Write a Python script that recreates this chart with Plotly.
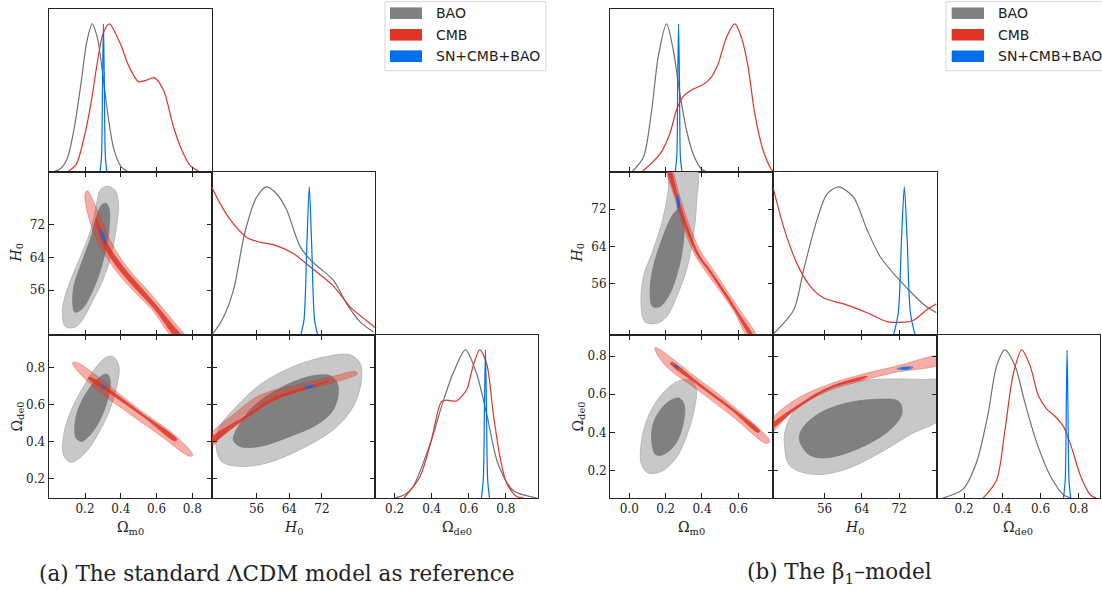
import plotly.graph_objects as go

W, H = 1102, 592

# ---------------- text ----------------
series_names = ["BAO", "CMB", "SN+CMB+BAO"]
captions = ["(a) The standard ΛCDM model as reference", "(b) The β<sub>1</sub>–model"]
param_labels = ["Ω<sub>m0</sub>", "<i>H</i><sub>0</sub>", "Ω<sub>de0</sub>"]

# ---------------- ticks ----------------
lcdm_ticks_om = [0.2, 0.4, 0.6, 0.8]
b1_ticks_om = [0.0, 0.2, 0.4, 0.6]
ticks_h0 = [56, 64, 72]
ticks_ode = [0.2, 0.4, 0.6, 0.8]
tick_text_om_lcdm = ["0.2", "0.4", "0.6", "0.8"]
tick_text_om_b1 = ["0.0", "0.2", "0.4", "0.6"]
tick_text_h0 = ["56", "64", "72"]
tick_text_ode = ["0.2", "0.4", "0.6", "0.8"]

# ---------------- LCDM: 1D marginals (value, normalised density) ----------------
lcdm_om_bao = [(0.02, 0), (0.06, 0.02), (0.10, 0.09), (0.14, 0.30), (0.18, 0.62), (0.21, 0.88), (0.24, 1.0),
               (0.27, 0.90), (0.30, 0.65), (0.33, 0.37), (0.36, 0.16), (0.40, 0.04), (0.44, 0.0)]
lcdm_om_cmb = [(0.10, 0), (0.15, 0.05), (0.20, 0.26), (0.237, 0.49), (0.265, 0.71), (0.30, 0.93), (0.336, 1.0),
               (0.396, 0.87), (0.443, 0.72), (0.499, 0.61), (0.545, 0.62), (0.587, 0.637), (0.639, 0.553),
               (0.695, 0.305), (0.742, 0.147), (0.788, 0.045), (0.844, 0.0)]
lcdm_om_sn = [(0.283, 0), (0.292, 0.1), (0.298, 0.6), (0.303, 1.0), (0.308, 0.6), (0.314, 0.1), (0.322, 0)]

lcdm_h0_bao = [(45.0, 0.0), (47.5, 0.1), (50.3, 0.30), (53.1, 0.69), (56.0, 0.93), (58.45, 1.0), (61.0, 0.95),
               (63.35, 0.845), (66.6, 0.60), (69.1, 0.51), (71.5, 0.45), (74.8, 0.37), (78.1, 0.21),
               (81.3, 0.09), (84.6, 0.02)]
lcdm_h0_cmb = [(45.0, 1.0), (47.0, 0.89), (49.5, 0.78), (53.5, 0.66), (57.0, 0.625), (60.1, 0.61), (65.0, 0.55),
               (69.1, 0.46), (74.8, 0.33), (78.9, 0.19), (84.6, 0.06), (85.0, 0.05)]
lcdm_h0_sn = [(66.8, 0), (67.6, 0.1), (68.3, 0.6), (68.9, 1.0), (69.5, 0.6), (70.2, 0.1), (71.0, 0)]

lcdm_ode_bao = [(0.20, 0), (0.25, 0.02), (0.299, 0.076), (0.398, 0.39), (0.461, 0.65), (0.515, 0.84), (0.582, 1.0),
                (0.642, 0.84), (0.696, 0.57), (0.758, 0.23), (0.84, 0.05), (0.966, 0)]
lcdm_ode_cmb = [(0.25, 0), (0.335, 0.14), (0.398, 0.39), (0.452, 0.65), (0.479, 0.66), (0.533, 0.655),
                (0.588, 0.73), (0.623, 0.89), (0.659, 1.0), (0.696, 0.91), (0.732, 0.57), (0.768, 0.28),
                (0.804, 0.10), (0.858, 0.01), (0.90, 0)]
lcdm_ode_sn = [(0.668, 0), (0.678, 0.12), (0.685, 0.65), (0.69, 1.0), (0.695, 0.65), (0.702, 0.12), (0.712, 0)]

# ---------------- LCDM: 2D contours (68% / 95%) ----------------
lcdm_omh0_bao_95 = [(0.321, 81.5), (0.368, 80.5), (0.387, 77.3), (0.381, 73.2), (0.368, 69.2), (0.340, 63.5),
                    (0.293, 57.8), (0.237, 52.9), (0.181, 48.4), (0.135, 46.8), (0.088, 47.2), (0.073, 50.5),
                    (0.088, 54.5), (0.135, 60.2), (0.191, 65.9), (0.237, 71.6), (0.265, 77.3), (0.284, 80.5)]
lcdm_omh0_bao_68 = [(0.318, 77.3), (0.336, 75.7), (0.334, 70.8), (0.312, 65.1), (0.275, 59.4), (0.228, 54.5),
                    (0.181, 51.3), (0.144, 50.6), (0.131, 52.9), (0.138, 57.0), (0.181, 62.7), (0.228, 68.3),
                    (0.265, 74.0), (0.293, 76.9)]
lcdm_omh0_cmb_95 = [(0.213, 80.4), (0.269, 75.7), (0.340, 68.3), (0.433, 61.8), (0.564, 55.3), (0.695, 48.4),
                    (0.770, 44.0), (0.704, 44.0), (0.573, 51.3), (0.437, 57.4), (0.340, 62.7), (0.256, 69.2),
                    (0.206, 76.5), (0.200, 79.6)]
lcdm_omh0_cmb_68 = [(0.262, 73.6), (0.318, 67.9), (0.412, 61.8), (0.540, 55.3), (0.672, 48.4), (0.750, 44.0),
                    (0.720, 44.0), (0.590, 51.3), (0.462, 57.4), (0.378, 61.8), (0.303, 67.1), (0.262, 72.4)]
lcdm_omh0_sn_95 = [(0.285, 70.9), (0.292, 70.9), (0.312, 68.5), (0.319, 67.4), (0.312, 67.5), (0.292, 69.7)]
lcdm_omh0_sn_68 = [(0.292, 70.3), (0.298, 70.2), (0.312, 68.4), (0.306, 68.3), (0.294, 69.6)]

lcdm_omode_bao_95 = [(0.321, 0.856), (0.359, 0.856), (0.390, 0.805), (0.377, 0.697), (0.331, 0.553),
                     (0.265, 0.427), (0.200, 0.337), (0.125, 0.287), (0.082, 0.319), (0.079, 0.427),
                     (0.116, 0.553), (0.181, 0.679), (0.265, 0.805)]
lcdm_omode_bao_68 = [(0.321, 0.764), (0.340, 0.733), (0.331, 0.643), (0.293, 0.535), (0.237, 0.445),
                     (0.181, 0.400), (0.150, 0.418), (0.144, 0.499), (0.168, 0.589), (0.219, 0.679),
                     (0.275, 0.742)]
lcdm_omode_cmb_95 = [(0.131, 0.827), (0.163, 0.823), (0.321, 0.712), (0.527, 0.556), (0.695, 0.440),
                     (0.803, 0.328), (0.788, 0.319), (0.620, 0.432), (0.433, 0.560), (0.265, 0.680),
                     (0.138, 0.805)]
lcdm_omode_cmb_68 = [(0.224, 0.748), (0.340, 0.678), (0.527, 0.545), (0.714, 0.410), (0.704, 0.402),
                     (0.527, 0.533), (0.331, 0.666), (0.219, 0.740)]
lcdm_omode_sn_95 = [(0.290, 0.705), (0.300, 0.702), (0.316, 0.688), (0.306, 0.686), (0.294, 0.695)]
lcdm_omode_sn_68 = [(0.296, 0.700), (0.303, 0.698), (0.310, 0.690), (0.303, 0.690)]

lcdm_h0ode_bao_95 = [(46.0, 0.391), (47.4, 0.292), (51.9, 0.265), (58.5, 0.283), (66.6, 0.355), (74.8, 0.463),
                     (79.7, 0.589), (81.7, 0.733), (81.3, 0.823), (78.9, 0.868), (73.2, 0.859), (65.0, 0.805),
                     (56.8, 0.706), (50.3, 0.571), (47.0, 0.481)]
lcdm_h0ode_bao_68 = [(50.3, 0.409), (51.9, 0.373), (56.8, 0.373), (64.2, 0.427), (70.7, 0.490), (74.8, 0.571),
                     (76.0, 0.697), (74.4, 0.751), (69.9, 0.755), (62.5, 0.697), (55.2, 0.589), (51.5, 0.481)]
lcdm_h0ode_cmb_95 = [(44.5, 0.430), (50.3, 0.545), (56.8, 0.650), (66.6, 0.708), (74.8, 0.752), (80.1, 0.778),
                     (80.7, 0.765), (74.8, 0.717), (66.6, 0.672), (56.8, 0.600), (50.3, 0.500), (44.5, 0.365)]
lcdm_h0ode_cmb_68 = [(44.5, 0.410), (51.9, 0.520), (60.1, 0.635), (68.3, 0.694), (73.6, 0.725), (68.3, 0.684),
                     (60.1, 0.620), (51.9, 0.502), (44.5, 0.385)]
lcdm_h0ode_sn_95 = [(67.5, 0.688), (68.5, 0.700), (70.2, 0.703), (69.4, 0.688)]
lcdm_h0ode_sn_68 = [(68.2, 0.692), (68.9, 0.699), (69.7, 0.699), (69.0, 0.690)]

# ---------------- beta1 model: 1D marginals ----------------
b1_om_bao = [(0.013, 0), (0.077, 0.10), (0.123, 0.42), (0.159, 0.78), (0.205, 1.0), (0.242, 0.82),
             (0.278, 0.53), (0.315, 0.28), (0.352, 0.12), (0.397, 0.02), (0.43, 0)]
b1_om_cmb = [(0.068, 0), (0.168, 0.12), (0.223, 0.26), (0.26, 0.42), (0.297, 0.51), (0.352, 0.56),
             (0.407, 0.59), (0.452, 0.64), (0.489, 0.73), (0.535, 0.91), (0.581, 1.0), (0.617, 0.91),
             (0.654, 0.71), (0.690, 0.40), (0.736, 0.15), (0.782, 0.02), (0.80, 0)]
b1_om_sn = [(0.252, 0), (0.261, 0.1), (0.266, 0.6), (0.271, 1.0), (0.276, 0.6), (0.281, 0.1), (0.29, 0)]

b1_h0_bao = [(45.1, 0.01), (49.4, 0.17), (51.5, 0.44), (54.4, 0.78), (56.5, 0.95), (59.0, 1.0), (62.2, 0.93),
             (65.1, 0.71), (67.9, 0.53), (71.5, 0.39), (75.1, 0.27), (77.9, 0.19), (80.0, 0.15)]
b1_h0_cmb = [(45.0, 0.99), (47.2, 0.73), (50.1, 0.48), (52.9, 0.33), (55.8, 0.25), (60.1, 0.21), (65.1, 0.15),
             (69.4, 0.09), (72.2, 0.085), (75.1, 0.10), (77.9, 0.17), (80.0, 0.21)]
b1_h0_sn = [(70.8, 0), (71.8, 0.15), (72.5, 0.65), (73.1, 1.0), (73.7, 0.65), (74.4, 0.15), (75.4, 0)]

b1_ode_bao = [(0.089, 0), (0.195, 0.06), (0.265, 0.24), (0.326, 0.57), (0.37, 0.89), (0.414, 1.0),
              (0.467, 0.89), (0.519, 0.64), (0.581, 0.37), (0.651, 0.15), (0.721, 0.02), (0.76, 0)]
b1_ode_cmb = [(0.30, 0), (0.37, 0.12), (0.414, 0.46), (0.458, 0.84), (0.502, 1.0), (0.546, 0.89),
              (0.589, 0.69), (0.633, 0.60), (0.677, 0.55), (0.721, 0.48), (0.765, 0.33), (0.809, 0.15),
              (0.861, 0.02), (0.89, 0)]
b1_ode_sn = [(0.72, 0), (0.729, 0.12), (0.735, 0.65), (0.739, 1.0), (0.743, 0.65), (0.749, 0.12), (0.758, 0)]

# ---------------- beta1 model: 2D contours ----------------
b1_omh0_bao_95 = [(0.366, 81.0), (0.370, 73.3), (0.352, 66.1), (0.315, 59.0), (0.260, 53.2), (0.205, 48.9),
                  (0.150, 47.5), (0.086, 47.8), (0.064, 51.8), (0.077, 57.5), (0.123, 62.5), (0.178, 69.0),
                  (0.214, 76.2), (0.223, 81.0)]
b1_omh0_bao_68 = [(0.269, 71.9), (0.297, 70.4), (0.297, 64.7), (0.269, 59.0), (0.223, 53.9), (0.168, 51.1),
                  (0.128, 51.1), (0.114, 54.7), (0.132, 59.7), (0.178, 65.4), (0.233, 70.4)]
b1_omh0_cmb_95 = [(0.227, 81.0), (0.278, 74.7), (0.333, 68.3), (0.388, 63.3), (0.462, 59.0), (0.535, 54.7),
                  (0.608, 50.4), (0.700, 44.6), (0.654, 44.6), (0.581, 49.7), (0.507, 54.0), (0.434, 57.9),
                  (0.361, 62.2), (0.306, 67.2), (0.256, 73.6), (0.205, 81.0)]
b1_omh0_cmb_68 = [(0.220, 81.0), (0.272, 74.0), (0.322, 68.0), (0.388, 62.0), (0.444, 59.0), (0.531, 54.0),
                  (0.597, 50.0), (0.683, 44.6), (0.671, 44.6), (0.585, 50.0), (0.519, 54.0), (0.432, 59.0),
                  (0.376, 62.0), (0.310, 68.0), (0.260, 74.0), (0.210, 81.0)]
b1_omh0_sn_95 = [(0.262, 75.0), (0.270, 75.2), (0.276, 73.0), (0.274, 71.6), (0.266, 71.8), (0.262, 73.5)]
b1_omh0_sn_68 = [(0.266, 74.3), (0.271, 74.2), (0.273, 72.6), (0.268, 72.4)]

b1_omode_bao_95 = [(0.324, 0.678), (0.366, 0.640), (0.361, 0.536), (0.315, 0.380), (0.251, 0.258),
                   (0.168, 0.192), (0.099, 0.189), (0.064, 0.241), (0.068, 0.363), (0.104, 0.484),
                   (0.168, 0.588), (0.251, 0.661)]
b1_omode_bao_68 = [(0.273, 0.580), (0.302, 0.545), (0.293, 0.432), (0.251, 0.336), (0.187, 0.284),
                   (0.145, 0.284), (0.123, 0.354), (0.132, 0.449), (0.178, 0.527), (0.233, 0.571)]
b1_omode_cmb_95 = [(0.141, 0.845), (0.168, 0.835), (0.352, 0.701), (0.535, 0.567), (0.773, 0.354),
                   (0.755, 0.342), (0.571, 0.481), (0.388, 0.614), (0.205, 0.744), (0.143, 0.828)]
b1_omode_cmb_68 = [(0.233, 0.768), (0.388, 0.655), (0.571, 0.524), (0.718, 0.406), (0.709, 0.400),
                   (0.562, 0.518), (0.379, 0.648), (0.227, 0.761)]
b1_omode_sn_95 = [(0.250, 0.752), (0.258, 0.752), (0.272, 0.738), (0.264, 0.734), (0.252, 0.745)]
b1_omode_sn_68 = [(0.256, 0.748), (0.262, 0.747), (0.268, 0.739), (0.262, 0.738)]

b1_h0ode_bao_95 = [(47.4, 0.328), (48.6, 0.224), (53.6, 0.180), (60.1, 0.203), (67.2, 0.284), (74.4, 0.389),
                   (81.0, 0.480), (81.0, 0.666), (76.5, 0.678), (67.2, 0.678), (60.1, 0.658), (53.6, 0.597),
                   (49.4, 0.510), (47.6, 0.415)]
b1_h0ode_bao_68 = [(50.6, 0.363), (52.6, 0.284), (56.5, 0.267), (63.6, 0.319), (70.1, 0.415), (72.6, 0.501),
                   (71.9, 0.562), (67.2, 0.574), (60.1, 0.550), (54.4, 0.493), (51.1, 0.415)]
b1_h0ode_cmb_95 = [(44.5, 0.460), (49.4, 0.567), (56.5, 0.649), (64.2, 0.706), (70.8, 0.744), (81.0, 0.800),
                   (81.0, 0.762), (70.8, 0.713), (64.2, 0.672), (56.5, 0.614), (49.4, 0.519), (44.5, 0.400)]
b1_h0ode_cmb_68 = [(44.5, 0.436), (50.8, 0.550), (57.9, 0.646), (65.1, 0.694), (64.7, 0.686), (57.6, 0.635),
                   (50.4, 0.531), (44.5, 0.420)]
b1_h0ode_sn_95 = [(71.5, 0.733), (72.5, 0.742), (75.0, 0.742), (74.2, 0.730)]
b1_h0ode_sn_68 = [(72.3, 0.735), (73.0, 0.740), (74.3, 0.740), (73.6, 0.733)]

# ---------------- styles ----------------
line_colors = ["#707070", "#E03424", "#006FED"]
legend_colors = ["#808080", "#E03424", "#006FED"]
fill95 = ["#c8c8c8", "rgba(224,52,36,0.40)", "rgba(0,111,237,0.5)"]
fill68 = ["#808080", "rgba(224,52,36,0.85)", "rgba(0,111,237,0.9)"]
edge95 = ["#a8a8a8", "rgba(224,52,36,0.45)", "rgba(0,111,237,0.6)"]
edge68 = ["#777777", "rgba(224,52,36,0.85)", "rgba(0,111,237,0.9)"]

SERIF = "DejaVu Serif"
SANS = "DejaVu Sans"
INK = "#222222"

models = [
    dict(
        cols=[48.5, 211.7, 375.0, 538.3],
        ranges=[[-0.0045, 0.909], [45.0, 85.0], [0.094, 0.975]],
        ticks=[(lcdm_ticks_om, tick_text_om_lcdm), (ticks_h0, tick_text_h0), (ticks_ode, tick_text_ode)],
        d1=[[lcdm_om_bao, lcdm_om_cmb, lcdm_om_sn],
            [lcdm_h0_bao, lcdm_h0_cmb, lcdm_h0_sn],
            [lcdm_ode_bao, lcdm_ode_cmb, lcdm_ode_sn]],
        d2={(2, 1): [(lcdm_omh0_bao_95, lcdm_omh0_bao_68), (lcdm_omh0_cmb_95, lcdm_omh0_cmb_68),
                     (lcdm_omh0_sn_95, lcdm_omh0_sn_68)],
            (3, 1): [(lcdm_omode_bao_95, lcdm_omode_bao_68), (lcdm_omode_cmb_95, lcdm_omode_cmb_68),
                     (lcdm_omode_sn_95, lcdm_omode_sn_68)],
            (3, 2): [(lcdm_h0ode_bao_95, lcdm_h0ode_bao_68), (lcdm_h0ode_cmb_95, lcdm_h0ode_cmb_68),
                     (lcdm_h0ode_sn_95, lcdm_h0ode_sn_68)]},
        legend_box=(385, 546), legend_patch=(390, 422), legend_text=434,
        ylabel_x=17, caption_x=276.5,
    ),
    dict(
        cols=[610.0, 773.3, 936.5, 1100.0],
        ranges=[[-0.107, 0.793], [45.0, 80.0], [0.056, 0.911]],
        ticks=[(b1_ticks_om, tick_text_om_b1), (ticks_h0, tick_text_h0), (ticks_ode, tick_text_ode)],
        d1=[[b1_om_bao, b1_om_cmb, b1_om_sn],
            [b1_h0_bao, b1_h0_cmb, b1_h0_sn],
            [b1_ode_bao, b1_ode_cmb, b1_ode_sn]],
        d2={(2, 1): [(b1_omh0_bao_95, b1_omh0_bao_68), (b1_omh0_cmb_95, b1_omh0_cmb_68),
                     (b1_omh0_sn_95, b1_omh0_sn_68)],
            (3, 1): [(b1_omode_bao_95, b1_omode_bao_68), (b1_omode_cmb_95, b1_omode_cmb_68),
                     (b1_omode_sn_95, b1_omode_sn_68)],
            (3, 2): [(b1_h0ode_bao_95, b1_h0ode_bao_68), (b1_h0ode_cmb_95, b1_h0ode_cmb_68),
                     (b1_h0ode_sn_95, b1_h0ode_sn_68)]},
        legend_box=(946, 1110), legend_patch=(951.7, 984), legend_text=995.7,
        ylabel_x=578, caption_x=839.5,
    ),
]
rows_px = [9.0, 172.0, 335.0, 498.0]


def px_x(p):
    return p / W


def px_y(p):
    return 1 - p / H


fig = go.Figure()
layout = dict(
    width=W, height=H, margin=dict(l=0, r=0, t=0, b=0),
    paper_bgcolor="white", plot_bgcolor="rgba(0,0,0,0)", showlegend=False,
)
annotations = []
shapes = []

panels = [(1, 1), (2, 1), (2, 2), (3, 1), (3, 2), (3, 3)]
n = 0
for m in models:
    for (r, c) in panels:
        n += 1
        xa = "x" if n == 1 else f"x{n}"
        ya = "y" if n == 1 else f"y{n}"
        xdom = [px_x(m["cols"][c - 1]), px_x(m["cols"][c])]
        ydom = [px_y(rows_px[r]), px_y(rows_px[r - 1])]
        common = dict(showgrid=False, zeroline=False, showline=True, linecolor=INK, linewidth=1,
                      ticklen=5, tickwidth=1, tickcolor=INK, fixedrange=True,
                      tickfont=dict(family=SERIF, size=12, color=INK))
        tv, tt = m["ticks"][c - 1]
        xcfg = dict(common, domain=xdom, range=m["ranges"][c - 1], tickvals=tv, ticktext=tt,
                    ticks="inside", showticklabels=(r == 3), anchor=ya,
                    mirror=(True if r == c else "ticks"))
        if r == c:
            ycfg = dict(common, domain=ydom, range=[0, 1.1], ticks="", showticklabels=False,
                        mirror=True, anchor=xa)
        else:
            tvy, tty = m["ticks"][r - 1]
            ycfg = dict(common, domain=ydom, range=m["ranges"][r - 1], tickvals=tvy, ticktext=tty,
                        ticks="inside", showticklabels=(c == 1), mirror="ticks", anchor=xa)
        layout["xaxis" if n == 1 else f"xaxis{n}"] = xcfg
        layout["yaxis" if n == 1 else f"yaxis{n}"] = ycfg

        if r == c:
            for s, curve in enumerate(m["d1"][r - 1]):
                fig.add_trace(go.Scatter(
                    x=[p[0] for p in curve], y=[p[1] for p in curve], mode="lines",
                    line=dict(color=line_colors[s], width=1.2, shape="spline", smoothing=0.8),
                    xaxis=xa, yaxis=ya, hoverinfo="skip", showlegend=False))
        else:
            for s, (c95, c68) in enumerate(m["d2"][(r, c)]):
                for pts, fc, lc in ((c95, fill95[s], edge95[s]), (c68, fill68[s], edge68[s])):
                    xs = [p[0] for p in pts] + [pts[0][0]]
                    ys = [p[1] for p in pts] + [pts[0][1]]
                    fig.add_trace(go.Scatter(
                        x=xs, y=ys, mode="lines", fill="toself", fillcolor=fc,
                        line=dict(color=lc, width=0.7, shape="spline", smoothing=1.0),
                        xaxis=xa, yaxis=ya, hoverinfo="skip", showlegend=False))

    # axis labels
    for i, lab in enumerate(param_labels):
        cx = (m["cols"][i] + m["cols"][i + 1]) / 2
        annotations.append(dict(x=px_x(cx), y=px_y(528), xref="paper", yref="paper", text=lab,
                                showarrow=False, xanchor="center", yanchor="middle",
                                font=dict(family=SERIF, size=14, color=INK)))
    for i, lab in enumerate(param_labels[1:], start=1):
        cy = (rows_px[i] + rows_px[i + 1]) / 2
        annotations.append(dict(x=px_x(m["ylabel_x"]), y=px_y(cy), xref="paper", yref="paper", text=lab,
                                showarrow=False, xanchor="center", yanchor="middle", textangle=-90,
                                font=dict(family=SERIF, size=14, color=INK)))

    # legend (drawn box, patches, real text)
    bx0, bx1 = m["legend_box"]
    shapes.append(dict(type="rect", xref="paper", yref="paper", x0=px_x(bx0), x1=px_x(bx1),
                       y0=px_y(70.7), y1=px_y(1.7), line=dict(color="#d4d4d4", width=1),
                       fillcolor="white", layer="above"))
    row_c = [13.2, 34.8, 56.2]
    for s, name in enumerate(series_names):
        p0, p1 = m["legend_patch"]
        shapes.append(dict(type="rect", xref="paper", yref="paper", x0=px_x(p0), x1=px_x(p1),
                           y0=px_y(row_c[s] + 5.8), y1=px_y(row_c[s] - 5.8), line=dict(width=0),
                           fillcolor=legend_colors[s], layer="above"))
        annotations.append(dict(x=px_x(m["legend_text"]), y=px_y(row_c[s]), xref="paper", yref="paper",
                                text=name, showarrow=False, xanchor="left", yanchor="middle",
                                font=dict(family=SANS, size=14, color=INK)))

for k, m in enumerate(models):
    annotations.append(dict(x=px_x(m["caption_x"]), y=px_y(573), xref="paper", yref="paper",
                            text=captions[k], showarrow=False, xanchor="center", yanchor="middle",
                            font=dict(family=SERIF, size=21.5, color=INK)))

layout["annotations"] = annotations
layout["shapes"] = shapes
fig.update_layout(**layout)
fig.write_html("out.html")
